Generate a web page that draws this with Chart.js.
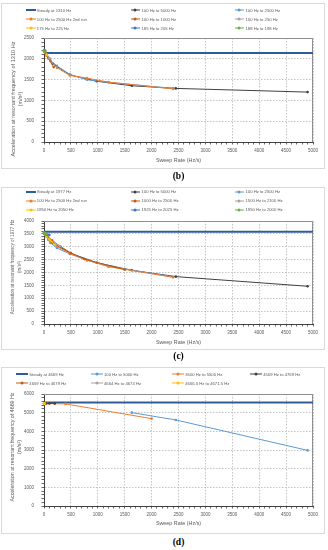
<!DOCTYPE html>
<html>
<head>
<meta charset="utf-8">
<script src="https://cdn.jsdelivr.net/npm/chart.js@4"></script>
<style>
  html, body { margin: 0; padding: 0; background: #fff; }
  body { width: 328px; height: 550px; position: relative; overflow: hidden; font-family: 'Liberation Sans', Arial, sans-serif; }
  .box { position: absolute; left: 1px; width: 324px; border: 1px solid #d9d9d9; box-sizing: border-box; }
  canvas { position: absolute; left: 0; }
  .legend { position: absolute; display: grid; font-size: 4.2px; color: #595959; }
  .item { display: flex; align-items: center; height: 9px; white-space: nowrap; }
  .sample { position: relative; height: 9px; margin-right: 1.3px; flex: none; }
  .sample i { position: absolute; left: 0; right: 0; top: 50%; height: 1px; transform: translateY(-50%); }
  .sample b { position: absolute; left: 50%; top: 50%; width: 3px; height: 3px; border-radius: 50%; transform: translate(-50%, -50%); }
  .caption { position: absolute; left: 0; width: 357px; text-align: center; font: bold 9.5px 'Liberation Serif', serif; color: #000; }
</style>
</head>
<body>
<div class="box" style="top:3px;height:166px"></div>
<div class="box" style="top:187px;height:163px"></div>
<div class="box" style="top:367px;height:167px"></div>

<canvas id="chartB" width="328" height="166" style="top:3px"></canvas>
<canvas id="chartC" width="328" height="163" style="top:187px"></canvas>
<canvas id="chartD" width="328" height="167" style="top:367px"></canvas>

<div id="legendB" class="legend" style="left:26px;top:5.5px;grid-template-columns:104.7px 104px auto"></div>
<div id="legendC" class="legend" style="left:26px;top:187.2px;grid-template-columns:104.7px 104px auto"></div>
<div id="legendD" class="legend" style="left:16px;top:369.8px;grid-template-columns:74.7px 81.3px 78px auto"></div>

<div class="caption" style="top:171px">(b)</div>
<div class="caption" style="top:351px">(c)</div>
<div class="caption" style="top:537px">(d)</div>

<script>
// sweep rates (Hz/s) shared by the wide sweeps
const steadyRates = [0, 5000];
const rates5000 = [49, 98, 163, 490, 980, 1633, 2450, 4900];
const rates2500 = [24, 48, 80, 120, 240, 480, 800, 1200, 2400];

// (b) resonant frequency 1310 Hz
const bLabels = ['Steady at 1310 Hz', '100 Hz to 5000 Hz', '100 Hz to 2500 Hz', '100 Hz to 2500 Hz 2nd run',
  '100 Hz to 1000 Hz', '150 Hz to 250 Hz', '175 Hz to 225 Hz', '185 Hz to 205 Hz', '188 Hz to 198 Hz'];
const bSteady = [2140, 2140];
const bAcc5000 = [2130, 2010, 1880, 1610, 1460, 1352, 1288, 1200];
const bAcc2500 = [2200, 2110, 2030, 1960, 1830, 1625, 1495, 1435, 1290];
const bAcc2500b = [2180, 2090, 2010, 1940, 1785, 1600, 1535, 1440, 1275];
const bRates1000 = [9, 18, 30, 45, 90, 180];
const bAcc1000 = [2190, 2170, 2130, 2080, 2000, 1800];
const bRates250 = [5, 10, 20, 50, 100];
const bAcc250 = [2190, 2180, 2160, 2100, 2010];
const bRates225 = [2.5, 5, 10, 25, 50];
const bAcc225 = [2190, 2185, 2170, 2140, 2090];
const bRates205 = [1, 2, 4, 10, 20];
const bAcc205 = [2210, 2200, 2190, 2180, 2150];
const bRates198 = [0.5, 1, 2, 5, 10];
const bAcc198 = [2190, 2190, 2185, 2180, 2170];

// (c) resonant frequency 1977 Hz
const cLabels = ['Steady at 1977 Hz', '100 Hz to 5000 Hz', '100 Hz to 2500 Hz', '100 Hz to 2500 Hz 2nd run',
  '1000 Hz to 2500 Hz', '1500 Hz to 2100 Hz', '1850 Hz to 2050 Hz', '1925 Hz to 2025 Hz', '1950 Hz to 2000 Hz'];
const cSteady = [3580, 3580];
const cAcc5000 = [3440, 3300, 3150, 2750, 2380, 2085, 1840, 1465];
const cAcc2500 = [3500, 3390, 3260, 3150, 2950, 2720, 2480, 2240, 1830];
const cAcc2500b = [3490, 3410, 3300, 3200, 3010, 2740, 2480, 2225, 1812];
const cRates1000 = [15, 30, 75, 150, 300, 500, 750, 1500];
const cAcc1000 = [3520, 3480, 3380, 3250, 3020, 2760, 2520, 2108];
const cRates2100 = [6, 12, 30, 60, 120, 300];
const cAcc2100 = [3530, 3510, 3460, 3380, 3250, 3030];
const cRates2050 = [2, 4, 10, 20, 40, 100, 200];
const cAcc2050 = [3530, 3520, 3500, 3470, 3420, 3280, 3080];
const cRates2025 = [1, 2, 5, 10, 20, 50, 100];
const cAcc2025 = [3530, 3530, 3520, 3510, 3490, 3470, 3460];
const cRates2000 = [0.5, 1, 2.5, 5, 10, 25, 50];
const cAcc2000 = [3540, 3540, 3530, 3530, 3520, 3510, 3500];

// (d) resonant frequency 4669 Hz
const dLabels = ['Steady at 4669 Hz', '100 Hz to 5000 Hz', '3500 Hz to 5500 Hz', '4569 Hz to 4769 Hz',
  '4659 Hz to 4679 Hz', '4664 Hz to 4674 Hz', '4666.5 Hz to 4671.5 Hz'];
const dSteady = [5550, 5550];
const dRates5000 = [1633, 2450, 4900];
const dAcc5000 = [5000, 4610, 2980];
const dRates5500 = [50, 100, 200, 400, 2000];
const dAcc5500 = [5490, 5490, 5480, 5470, 4680];
const dRates4769 = [10, 20, 40, 100, 200];
const dAcc4769 = [5500, 5500, 5500, 5500, 5500];
const dRates4679 = [1, 2, 4, 10, 20];
const dAcc4679 = [5480, 5490, 5490, 5500, 5500];
const dRates4674 = [0.5, 1, 2, 5, 10];
const dAcc4674 = [5480, 5480, 5490, 5490, 5500];
const dRates4671 = [0.25, 0.5, 1, 2.5, 5];
const dAcc4671 = [5480, 5480, 5480, 5490, 5490];

const C = {
  steady: '#2f5c99', dark: '#404040', light: '#5b9bd5', orange: '#ed7d31', brown: '#c55a11',
  gray: '#a5a5a5', gold: '#ffc000', blue: '#4472c4', green: '#70ad47'
};
const FONT = "'Liberation Sans', Arial, sans-serif";
const TEXT = '#595959';
const GRID = '#c4c4c4';

Chart.defaults.font.family = FONT;
Chart.defaults.color = TEXT;

// plot area border (top and right sides)
const frame = {
  id: 'frame',
  beforeDatasetsDraw(chart) {
    const { ctx, chartArea: a } = chart;
    ctx.save();
    ctx.strokeStyle = '#8f8f8f';
    ctx.lineWidth = 1;
    ctx.beginPath();
    ctx.moveTo(a.left, a.top + 0.5);
    ctx.lineTo(a.right - 0.5, a.top + 0.5);
    ctx.lineTo(a.right - 0.5, a.bottom);
    ctx.stroke();
    ctx.restore();
  }
};

// rotated y axis title, placed like the spreadsheet did it
const yTitle = {
  id: 'yTitle',
  afterDraw(chart, args, opts) {
    const ctx = chart.ctx;
    ctx.save();
    ctx.fillStyle = TEXT;
    ctx.font = opts.size + 'px ' + FONT;
    ctx.textAlign = 'center';
    ctx.textBaseline = 'middle';
    opts.lines.forEach((t, i) => {
      ctx.save();
      ctx.translate(opts.x + i * opts.gap, opts.y);
      ctx.rotate(-Math.PI / 2);
      ctx.fillText(t, 0, 0);
      ctx.restore();
    });
    ctx.restore();
  }
};

function buildLegend(id, labels, colors, sampleWidth) {
  const el = document.getElementById(id);
  labels.forEach((t, i) => {
    const item = document.createElement('div');
    item.className = 'item';
    const line = `<i style="background:${colors[i]};${i === 0 ? 'height:2px' : ''}"></i>`;
    const dot = i === 0 ? '' : `<b style="background:${colors[i]}"></b>`;
    item.innerHTML = `<span class="sample" style="width:${sampleWidth}px">${line}${dot}</span><span>${t}</span>`;
    el.appendChild(item);
  });
}

function buildChart(id, labels, colors, xs, ys, o) {
  const n = labels.length;
  const datasets = labels.map((label, i) => ({
    label,
    data: xs[i].map((x, j) => ({ x, y: ys[i][j] })),
    showLine: true,
    borderColor: colors[i],
    backgroundColor: colors[i],
    borderWidth: i === 0 ? 2 : 1,
    pointRadius: i === 0 ? 0 : 1.3,
    pointBorderWidth: 0,
    pointHoverRadius: 0,
    order: n - i,
    clip: false
  }));

  return new Chart(document.getElementById(id), {
    type: 'scatter',
    data: { datasets },
    plugins: [frame, yTitle],
    options: {
      responsive: false,
      animation: false,
      devicePixelRatio: 1,
      layout: { padding: { top: o.padTop, right: 15, bottom: 0, left: 0 } },
      plugins: {
        legend: { display: false },
        tooltip: { enabled: false },
        yTitle: { lines: o.yTitle, x: 13, gap: 7, y: o.yTitleY, size: o.yTitleSize }
      },
      scales: {
        x: {
          type: 'linear', min: 0, max: 5000,
          ticks: {
            stepSize: 100, autoSkip: false, maxRotation: 0, padding: 3.2,
            font: { size: 4.5 },
            callback: v => (v % 500 === 0 ? v : '')
          },
          grid: {
            color: ctx => (ctx.tick && ctx.tick.value % 500 === 0 ? GRID : 'rgba(0,0,0,0)'),
            lineWidth: 1, tickColor: '#404040', tickLength: 2.5, tickWidth: 0.8
          },
          border: { color: '#404040', width: 1, dash: [1.5, 1.5] },
          title: { display: true, text: 'Sweep Rate (Hz/s)', font: { size: 5.4 }, padding: { top: 0, bottom: o.xTitlePad } },
          afterFit: s => { s.height = o.xHeight; }
        },
        y: {
          type: 'linear', min: 0, max: o.yMax,
          ticks: {
            stepSize: o.yMinor, autoSkip: false, padding: 7.5,
            font: { size: 4.5 },
            callback: v => (v % o.yMajor === 0 ? v : '')
          },
          grid: {
            color: ctx => (ctx.tick && ctx.tick.value % o.yMajor === 0 ? GRID : 'rgba(0,0,0,0)'),
            lineWidth: 1, tickColor: '#404040', tickLength: 2.5, tickWidth: 0.8
          },
          border: { color: '#404040', width: 1, dash: [1.5, 1.5] },
          afterFit: s => { s.width = 44; }
        }
      }
    }
  });
}

const colorsBC = [C.steady, C.dark, C.light, C.orange, C.brown, C.gray, C.gold, C.blue, C.green];
const colorsD = [C.steady, C.light, C.orange, C.dark, C.brown, C.gray, C.gold];

buildLegend('legendB', bLabels, colorsBC, 9.5);
buildLegend('legendC', cLabels, colorsBC, 9.5);
buildLegend('legendD', dLabels, colorsD, 12);

buildChart('chartB', bLabels, colorsBC,
  [steadyRates, rates5000, rates2500, rates2500, bRates1000, bRates250, bRates225, bRates205, bRates198],
  [bSteady, bAcc5000, bAcc2500, bAcc2500b, bAcc1000, bAcc250, bAcc225, bAcc205, bAcc198],
  { padTop: 35, xHeight: 27, xTitlePad: 5.5, yMax: 2500, yMajor: 500, yMinor: 100,
    yTitle: ['Acceleration at resonant frequency of 1310 Hz', '(m/s²)'], yTitleY: 96, yTitleSize: 5.6 });

buildChart('chartC', cLabels, colorsBC,
  [steadyRates, rates5000, rates2500, rates2500, cRates1000, cRates2100, cRates2050, cRates2025, cRates2000],
  [cSteady, cAcc5000, cAcc2500, cAcc2500b, cAcc1000, cAcc2100, cAcc2050, cAcc2025, cAcc2000],
  { padTop: 34, xHeight: 26, xTitlePad: 4.5, yMax: 4000, yMajor: 500, yMinor: 100,
    yTitle: ['Acceleration at resonant frequency of 1977 Hz', '(m/s²)'], yTitleY: 80, yTitleSize: 4.6 });

buildChart('chartD', dLabels, colorsD,
  [steadyRates, dRates5000, dRates5500, dRates4769, dRates4679, dRates4674, dRates4671],
  [dSteady, dAcc5000, dAcc5500, dAcc4769, dAcc4679, dAcc4674, dAcc4671],
  { padTop: 27, xHeight: 28, xTitlePad: 7.5, yMax: 6000, yMajor: 1000, yMinor: 200,
    yTitle: ['Acceleration at resonant frequency of 4669 Hz', '(m/s²)'], yTitleY: 80, yTitleSize: 5.3 });
</script>
</body>
</html>
